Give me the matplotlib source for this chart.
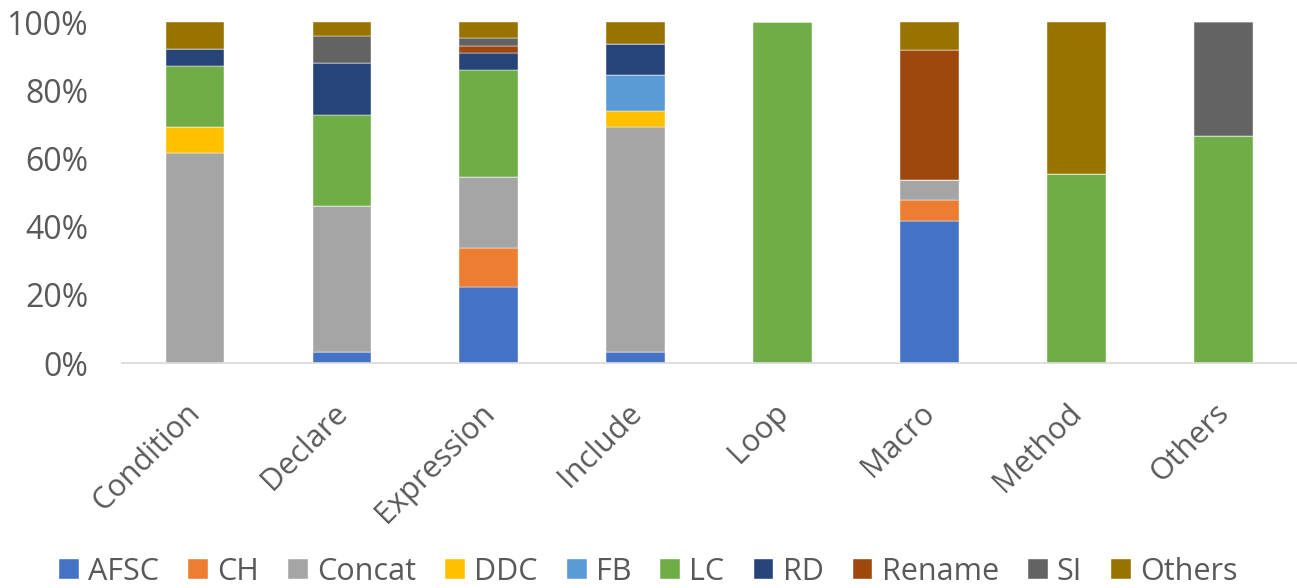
import matplotlib
matplotlib.use("Agg")
import matplotlib.pyplot as plt
import matplotlib.transforms as mtransforms
import numpy as np

categories = ["Condition", "Declare", "Expression", "Include", "Loop", "Macro", "Method", "Others"]
series_names = ["AFSC", "CH", "Concat", "DDC", "FB", "LC", "RD", "Rename", "SI", "Others"]
colors = ["#4472C4", "#ED7D31", "#A5A5A5", "#FFC000", "#5B9BD5", "#70AD47",
          "#264478", "#9E480E", "#636363", "#997300"]

# percentages per series, in category order
AFSC   = [0.0, 3.3, 22.4, 3.3, 0.0, 41.7, 0.0, 0.0]
CH     = [0.0, 0.0, 11.3, 0.0, 0.0, 6.0, 0.0, 0.0]
Concat = [61.5, 42.7, 20.9, 66.0, 0.0, 6.1, 0.0, 0.0]
DDC    = [7.7, 0.0, 0.0, 4.6, 0.0, 0.0, 0.0, 0.0]
FB     = [0.0, 0.0, 0.0, 10.6, 0.0, 0.0, 0.0, 0.0]
LC     = [17.9, 26.8, 31.4, 0.0, 100.0, 0.0, 55.4, 66.7]
RD     = [5.1, 15.4, 5.1, 9.1, 0.0, 0.0, 0.0, 0.0]
Rename = [0.0, 0.0, 1.8, 0.0, 0.0, 38.1, 0.0, 0.0]
SI     = [0.0, 7.9, 2.6, 0.0, 0.0, 0.0, 0.0, 33.3]
Others = [7.8, 3.9, 4.5, 6.4, 0.0, 8.1, 44.6, 0.0]
y_ticks = [0, 20, 40, 60, 80, 100]
y_tick_labels = ["0%", "20%", "40%", "60%", "80%", "100%"]

series = [AFSC, CH, Concat, DDC, FB, LC, RD, Rename, SI, Others]

plt.rcParams['font.family'] = ['Open Sans', 'DejaVu Sans']
fig = plt.figure(figsize=(12.97, 5.88), dpi=100)
ax = fig.add_axes([121.5/1297, 1 - 363/588, 1 - 121.5/1297, (363 - 22.3)/588])

x = np.arange(len(categories))
bottom = np.zeros(len(categories))
handles = []
for name, vals, c in zip(series_names, series, colors):
    v = np.array(vals, dtype=float)
    h = ax.bar(x, v, width=0.4, bottom=bottom, color=c, label=name,
               edgecolor="white", linewidth=0.3)
    bottom += v
    handles.append(h)

ax.set_xlim(-0.5, len(categories) - 0.5)
ax.set_ylim(0, 100)
ax.set_yticks(y_ticks)
ax.set_yticklabels(y_tick_labels, fontsize=23, color="#595959")
ax.set_xticks(x)
ax.set_xticklabels(categories, rotation=45, ha="right", rotation_mode="anchor",
                   fontsize=22, color="#595959")
ax.tick_params(axis="both", length=0)
ax.tick_params(axis="y", pad=24)
ax.tick_params(axis="x", pad=25)
offset = mtransforms.ScaledTranslation(-7/72, 0, fig.dpi_scale_trans)
for lbl in ax.get_xticklabels():
    lbl.set_transform(lbl.get_transform() + offset)
for s in ["top", "right", "left"]:
    ax.spines[s].set_visible(False)
ax.spines["bottom"].set_color("#D9D9D9")
ax.spines["bottom"].set_linewidth(1.2)

leg = fig.legend(handles=handles, labels=series_names, loc="lower center",
                 bbox_to_anchor=(0.5, -0.045), ncol=10, frameon=False,
                 fontsize=22, handlelength=0.65, handleheight=0.65,
                 handletextpad=0.3, columnspacing=0.95)
for t in leg.get_texts():
    t.set_color("#595959")

fig.savefig("out.png", dpi=100)
